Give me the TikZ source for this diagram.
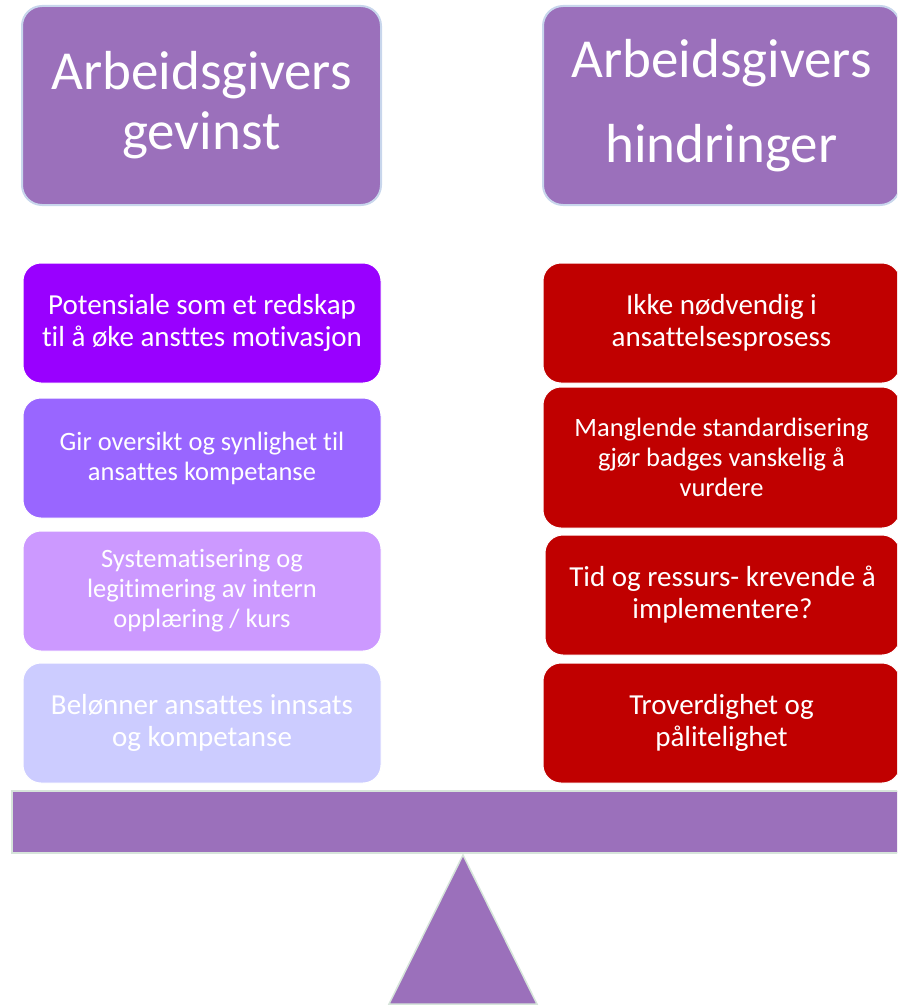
\documentclass[tikz,border=0pt]{standalone}
\usepackage{fontspec}
\setmainfont{Carlito}[Ligatures=NoCommon]
\definecolor{hdrcol}{RGB}{155,112,187}
\definecolor{hdredge}{RGB}{200,214,236}
\definecolor{beamedge}{RGB}{214,228,218}
\definecolor{pA}{RGB}{153,0,255}
\definecolor{pB}{RGB}{153,102,255}
\definecolor{pC}{RGB}{204,153,255}
\definecolor{pD}{RGB}{204,204,255}
\definecolor{redcol}{RGB}{192,0,0}
\begin{document}
\begin{tikzpicture}[x=1pt,y=-1pt,
  hdrbox/.style={rounded corners=20pt, fill=hdrcol, draw=hdredge, line width=2pt,
    text=white, align=center, inner sep=0pt, minimum height=199pt},
  itembox/.style={rounded corners=18pt, draw=white, line width=1pt,
    text=white, align=center, inner sep=0pt},
  leftbox/.style={itembox, minimum width=358pt, minimum height=120pt},
  rightbox/.style={itembox, fill=redcol, minimum width=357pt},
  big/.style={font=\fontsize{29}{32}\selectfont},
  small/.style={font=\fontsize{26.5}{30}\selectfont},
  fulcrum/.style={fill=hdrcol, draw=beamedge, line width=1.5pt}]
\useasboundingbox (0,0) rectangle (897,1006);
\clip (0,0) rectangle (897,1006);

% headers
\node[hdrbox, minimum width=359pt, font=\fontsize{55}{60}\selectfont] (h1) at (201.5,105.5) {Arbeidsgivers\\gevinst};
\node[hdrbox, minimum width=357pt, font=\fontsize{55}{85}\selectfont] (h2) at (721.5,105.5) {Arbeidsgivers\\hindringer};

% left column
\node[leftbox, fill=pA, big] (l1) at (202,323) {Potensiale som et redskap\\til å øke ansttes motivasjon};
\node[leftbox, fill=pB, small] (l2) at (202,458) {Gir oversikt og synlighet til\\ansattes kompetanse};
\node[leftbox, fill=pC, small] (l3) at (202,591) {Systematisering og\\legitimering av intern\\opplæring / kurs};
\node[leftbox, fill=pD, big] (l4) at (202,723) {Belønner ansattes innsats\\og kompetanse};

% right column
\node[rightbox, minimum height=120pt, big] (r1) at (721.5,323) {Ikke nødvendig i\\ansattelsesprosess};
\node[rightbox, minimum height=141pt, small] (r2) at (721.5,457.5) {Manglende standardisering\\gjør badges vanskelig å\\vurdere};
\node[rightbox, minimum width=355pt, minimum height=120pt, big] (r3) at (722.5,595) {Tid og ressurs- krevende å\\implementere?};
\node[rightbox, minimum height=120pt, big] (r4) at (721.5,723) {Troverdighet og\\pålitelighet};

% beam and fulcrum
\node[fill=hdrcol, draw=beamedge, line width=1.5pt, minimum width=890pt, minimum height=62pt, inner sep=0pt] (beam) at (457,822) {};
\coordinate (apex) at (463,855);
\coordinate (bl) at (389,1004);
\coordinate (br) at (537,1004);
\draw[fulcrum] (apex) -- (br) -- (bl) -- cycle;
\end{tikzpicture}
\end{document}
